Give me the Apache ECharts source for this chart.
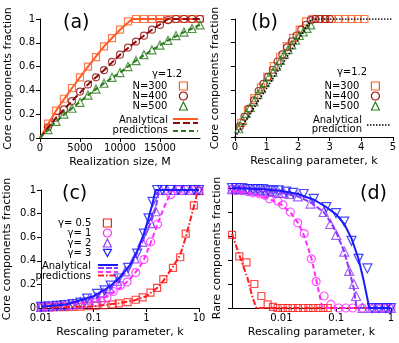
<!DOCTYPE html>
<html>
<head>
<meta charset="utf-8">
<script src="https://cdn.jsdelivr.net/npm/echarts@6/dist/echarts.min.js"></script>
<style>
html, body { margin: 0; padding: 0; background: #fff; }
#chart { width: 399px; height: 343px; }
</style>
</head>
<body>
<div id="chart"></div>
<script>
// (a) core fraction vs realization size M, gamma = 1.2
const sizeM = [1000, 2000, 3000, 4000, 5000, 6000, 7000, 8000, 9000, 10000, 11000, 12000, 13000, 14000, 15000, 16000, 17000, 18000, 19000, 20000]
const coreN300 = [0.12, 0.23, 0.33, 0.42, 0.51, 0.6, 0.68, 0.77, 0.84, 0.91, 0.98, 1, 1, 1, 1, 1, 1, 1, 1, 1]
const coreN400 = [0.09, 0.17, 0.24, 0.31, 0.39, 0.45, 0.51, 0.57, 0.64, 0.7, 0.76, 0.81, 0.86, 0.91, 0.95, 0.99, 1, 1, 1, 1]
const coreN500 = [0.07, 0.14, 0.2, 0.25, 0.3, 0.36, 0.41, 0.46, 0.51, 0.55, 0.6, 0.65, 0.7, 0.74, 0.78, 0.82, 0.86, 0.89, 0.92, 0.95]
const fitM300 = [0, 2000, 4000, 6000, 8000, 10000, 11500, 20000]
const fitN300 = [0, 0.23, 0.42, 0.6, 0.77, 0.91, 1, 1]
const fitM400 = [0, 2000, 4000, 6000, 8000, 10000, 12000, 14000, 16000, 20000]
const fitN400 = [0, 0.17, 0.31, 0.45, 0.57, 0.7, 0.81, 0.91, 1, 1]
const fitM500 = [0, 2000, 4000, 6000, 8000, 10000, 12000, 14000, 16000, 18000, 20000]
const fitN500 = [0, 0.14, 0.25, 0.36, 0.46, 0.55, 0.65, 0.74, 0.82, 0.89, 0.95]

// (b) same runs against the rescaling parameter k
const kN300 = [0.2, 0.41, 0.61, 0.82, 1.02, 1.23, 1.43, 1.64, 1.84, 2.05, 2.25, 2.46, 2.66, 2.87, 3.07, 3.28, 3.48, 3.69, 3.89, 4.1]
const kN400 = [0.15, 0.3, 0.45, 0.6, 0.75, 0.9, 1.05, 1.2, 1.35, 1.5, 1.65, 1.8, 1.95, 2.1, 2.25, 2.4, 2.55, 2.7, 2.85, 3.0]
const kN500 = [0.12, 0.24, 0.36, 0.48, 0.6, 0.72, 0.84, 0.96, 1.08, 1.2, 1.32, 1.44, 1.56, 1.68, 1.8, 1.92, 2.04, 2.16, 2.28, 2.4]
const fitKb = [0, 2.43, 5]
const fitCoreB = [0, 1, 1]

// (c) core fraction vs k for several gamma
const kG05 = [0.01, 0.014, 0.02, 0.028, 0.04, 0.056, 0.08, 0.11, 0.16, 0.23, 0.3, 0.44, 0.63, 0.85, 1.2, 1.6, 2.1, 3.2, 4.4, 5.6, 8, 10]
const coreG05 = [0.005, 0.006, 0.007, 0.008, 0.01, 0.012, 0.015, 0.02, 0.025, 0.03, 0.04, 0.05, 0.07, 0.09, 0.13, 0.17, 0.245, 0.34, 0.43, 0.63, 0.87, 0.99]
const kG1 = [0.01, 0.014, 0.02, 0.028, 0.04, 0.056, 0.08, 0.11, 0.14, 0.18, 0.235, 0.32, 0.43, 0.63, 0.9, 1.2, 1.63, 2.9, 4, 5.5, 7.5, 10]
const coreG1 = [0.01, 0.012, 0.014, 0.018, 0.022, 0.028, 0.035, 0.045, 0.06, 0.09, 0.14, 0.19, 0.22, 0.3, 0.41, 0.56, 0.71, 0.96, 1, 1, 1, 1]
const kG2 = [0.01, 0.014, 0.02, 0.028, 0.04, 0.056, 0.08, 0.11, 0.15, 0.2, 0.28, 0.4, 0.6, 0.84, 1.2, 1.5, 1.9, 2.5, 3.5, 5, 7, 10]
const coreG2 = [0.01, 0.014, 0.02, 0.025, 0.035, 0.05, 0.07, 0.09, 0.13, 0.17, 0.23, 0.31, 0.42, 0.56, 0.72, 0.82, 1, 1, 1, 1, 1, 1]
const kG3 = [0.01, 0.014, 0.02, 0.028, 0.04, 0.056, 0.075, 0.116, 0.16, 0.21, 0.3, 0.45, 0.67, 0.9, 1.1, 1.31, 1.6, 2, 2.8, 4, 5.6, 8, 10]
const coreG3 = [0.01, 0.014, 0.018, 0.024, 0.033, 0.045, 0.08, 0.12, 0.15, 0.19, 0.25, 0.34, 0.46, 0.63, 0.76, 0.9, 1, 1, 1, 1, 1, 1, 1]
const fitKc3 = [0.01, 0.03, 0.1, 0.2, 0.3, 0.5, 0.7, 0.9, 1.1, 1.3, 1.5, 10]
const fitCoreC3 = [0.01, 0.03, 0.1, 0.18, 0.25, 0.37, 0.5, 0.63, 0.76, 0.88, 1, 1]
const fitKc2 = [0.01, 0.03, 0.1, 0.2, 0.4, 0.6, 0.84, 1.2, 1.5, 1.75, 10]
const fitCoreC2 = [0.01, 0.03, 0.09, 0.17, 0.3, 0.42, 0.56, 0.72, 0.84, 1, 1]
const fitKc1 = [0.01, 0.03, 0.1, 0.2, 0.32, 0.5, 0.7, 0.9, 1.2, 1.6, 2.2, 3.1, 10]
const fitCoreC1 = [0.01, 0.025, 0.05, 0.11, 0.17, 0.25, 0.33, 0.41, 0.55, 0.7, 0.86, 1, 1]
const fitKc05 = [0.01, 0.03, 0.1, 0.3, 0.6, 1, 1.6, 2.1, 3, 4.4, 5.6, 8, 9.6, 10]
const fitCoreC05 = [0.004, 0.007, 0.015, 0.04, 0.065, 0.1, 0.17, 0.23, 0.33, 0.45, 0.6, 0.86, 1, 1]

// (d) rare components fraction vs k
const kD3 = [0.00125, 0.0015, 0.0019, 0.0024, 0.003, 0.0037, 0.0046, 0.0057, 0.0071, 0.0089, 0.0122, 0.0163, 0.0254, 0.039, 0.066, 0.099, 0.14, 0.19, 0.255, 0.37, 0.45, 0.6, 0.8, 1]
const rareD3 = [1, 1, 1, 0.99, 0.99, 0.99, 0.99, 0.98, 0.98, 0.98, 0.97, 0.96, 0.95, 0.91, 0.84, 0.79, 0.72, 0.56, 0.41, 0.33, 0, 0, 0, 0]
const kD2 = [0.00125, 0.0015, 0.0019, 0.0024, 0.003, 0.0037, 0.0046, 0.0057, 0.0071, 0.0089, 0.011, 0.014, 0.02, 0.034, 0.059, 0.078, 0.1, 0.14, 0.172, 0.21, 0.23, 0.3, 0.45, 0.6, 0.8, 1]
const rareD2 = [0.99, 0.99, 0.99, 0.99, 0.98, 0.98, 0.98, 0.97, 0.97, 0.96, 0.96, 0.95, 0.93, 0.87, 0.8, 0.7, 0.61, 0.47, 0.31, 0.2, 0.1, 0, 0, 0, 0, 0]
const kD1 = [0.00125, 0.0015, 0.0019, 0.0024, 0.003, 0.004, 0.005, 0.006, 0.0086, 0.0106, 0.0145, 0.0198, 0.026, 0.035, 0.043, 0.06, 0.08, 0.11, 0.15, 0.2, 0.3, 0.45, 0.6, 0.8, 1]
const rareD1 = [0.99, 0.98, 0.98, 0.97, 0.96, 0.95, 0.94, 0.91, 0.89, 0.86, 0.8, 0.71, 0.62, 0.41, 0.22, 0.1, 0.03, 0, 0, 0, 0, 0, 0, 0, 0]
const kD05 = [0.00125, 0.0017, 0.0023, 0.0032, 0.0043, 0.0056, 0.007, 0.0085, 0.0105, 0.013, 0.016, 0.02, 0.025, 0.031, 0.038, 0.047, 0.058, 0.07]
const rareD05 = [0.61, 0.43, 0.38, 0.2, 0.1, 0.03, 0.01, 0, 0, 0, 0, 0, 0, 0, 0, 0, 0, 0]
const fitKd3 = [0.00125, 0.005, 0.01, 0.02, 0.04, 0.066, 0.1, 0.14, 0.19, 0.255, 0.32, 0.37, 0.4, 1]
const fitRareD3 = [1, 0.99, 0.975, 0.95, 0.9, 0.84, 0.78, 0.7, 0.58, 0.41, 0.22, 0.08, 0, 0]
const fitKd2 = [0.00125, 0.005, 0.01, 0.02, 0.034, 0.059, 0.078, 0.1, 0.14, 0.17, 0.21, 0.235, 1]
const fitRareD2 = [1, 0.98, 0.96, 0.93, 0.88, 0.8, 0.72, 0.63, 0.47, 0.33, 0.16, 0, 0]
const fitKd1 = [0.00125, 0.003, 0.006, 0.01, 0.015, 0.02, 0.026, 0.035, 0.043, 0.05, 0.056, 1]
const fitRareD1 = [0.98, 0.95, 0.91, 0.86, 0.79, 0.71, 0.6, 0.42, 0.24, 0.1, 0, 0]
const fitKd05 = [0.00125, 0.0017, 0.0024, 0.003, 0.0035, 1]
const fitRareD05 = [0.62, 0.44, 0.25, 0.08, 0, 0]

const font = 'DejaVu Sans'
const cOrange = '#ff5b22', cDarkRed = '#8e0b0b', cGreen = '#2a7a1c'
const cRed = '#ff1c1c', cMagenta = '#ff2bff', cPurple = '#9036ff', cBlue = '#1a1aff'
const downTri = 'path://M0,0L10,0L5,9Z'

const zip = (xs, ys) => xs.map((x, i) => [x, ys[i]])

function dots(name, xs, ys, idx, symbol, color, size) {
  return {
    type: 'scatter', name, data: zip(xs, ys), xAxisIndex: idx, yAxisIndex: idx,
    symbol, symbolSize: size, silent: true, z: 3,
    itemStyle: { color: 'transparent', borderColor: color, borderWidth: 1.2 }
  }
}
function fit(xs, ys, idx, color, dash, width) {
  return {
    type: 'line', data: zip(xs, ys), xAxisIndex: idx, yAxisIndex: idx,
    showSymbol: false, symbol: 'none', silent: true, z: 4,
    lineStyle: { color, width: width || 2, type: dash || 'solid' }
  }
}

const tickTxt = { fontSize: 10, color: '#000', fontFamily: font }
function yAx(idx, name, gap, labels) {
  return {
    type: 'value', gridIndex: idx, min: 0, max: 1, interval: 0.2,
    name, nameLocation: 'middle', nameGap: gap,
    nameTextStyle: { fontSize: 11, color: '#000', fontFamily: font },
    axisLine: { lineStyle: { color: '#000', width: 1 } },
    axisTick: { length: 4, lineStyle: { color: '#000' } },
    axisLabel: Object.assign({ show: labels, margin: 5 }, tickTxt),
    splitLine: { show: false }
  }
}
function xAx(idx, extra) {
  return Object.assign({
    gridIndex: idx, name: 'Rescaling parameter, k', nameLocation: 'middle', nameGap: 19,
    nameTextStyle: { fontSize: 11, color: '#000', fontFamily: font },
    axisLine: { onZero: false, lineStyle: { color: '#000', width: 1 } },
    axisTick: { length: 4, lineStyle: { color: '#000' } },
    axisLabel: Object.assign({ margin: 5 }, tickTxt),
    splitLine: { show: false }
  }, extra)
}

function legendOf(items, right, top) {
  return {
    orient: 'vertical', align: 'right', right, top, padding: 0, itemGap: 0,
    itemWidth: 8, itemHeight: 8, selectedMode: false,
    textStyle: { fontSize: 10, color: '#000', fontFamily: font, padding: [0, 7, 0, 0] },
    data: items.map(([name, icon, color]) => ({
      name, icon, itemStyle: { color: 'transparent', borderColor: color, borderWidth: 1.2, opacity: 1 }
    }))
  }
}
function txt(text, x, y, align) {
  return { type: 'text', x, y, silent: true,
    style: { text, fill: '#000', fontSize: 10, fontFamily: font, align: align || 'right', verticalAlign: 'middle' } }
}
function key(x1, x2, y, color, dash, width) {
  return { type: 'line', silent: true, shape: { x1, y1: y, x2, y2: y },
    style: { stroke: color, lineWidth: width || 2, lineDash: dash || null } }
}
function panelTag(text, left, top) {
  return { text, left, top, padding: 0,
    textStyle: { fontSize: 19, fontWeight: 'normal', color: '#000', fontFamily: font } }
}

const chart = echarts.init(document.getElementById('chart'))
const option = {
  animation: false,
  backgroundColor: '#fff',
  title: [panelTag('(a)', 63, 14), panelTag('(b)', 251, 14), panelTag('(c)', 62, 185), panelTag('(d)', 360, 185)],
  grid: [
    { left: 40, top: 19, width: 160, height: 119 },
    { left: 235, top: 19, width: 159, height: 118 },
    { left: 41, top: 190, width: 158, height: 118 },
    { left: 232, top: 188, width: 159, height: 120 }
  ],
  xAxis: [
    xAx(0, { type: 'value', min: 0, max: 20000, interval: 5000, name: 'Realization size, M',
      axisLabel: Object.assign({ margin: 5, showMaxLabel: false, formatter: v => String(v) }, tickTxt) }),
    xAx(1, { type: 'value', min: 0, max: 5, interval: 1 }),
    xAx(2, { type: 'log', logBase: 10, min: 0.01, max: 10,
      axisLabel: Object.assign({ margin: 5, formatter: v => String(+v.toPrecision(2)) }, tickTxt) }),
    xAx(3, { type: 'log', logBase: 10, min: 0.00125, max: 1,
      axisTick: { length: 4, lineStyle: { color: '#000' }, customValues: [0.01, 0.1, 1] },
      axisLabel: Object.assign({ margin: 5, customValues: [0.01, 0.1, 1], formatter: v => String(+v.toPrecision(2)) }, tickTxt) })
  ],
  yAxis: [
    yAx(0, 'Core components fraction', 26, true),
    yAx(1, 'Core components fraction', 14, false),
    yAx(2, 'Core components fraction', 28, true),
    yAx(3, 'Rare components fraction', 9, false)
  ],
  legend: [
    legendOf([['N=300', 'rect', cOrange], ['N=400', 'circle', cDarkRed], ['N=500', 'triangle', cGreen]], 211, 81),
    legendOf([['N=300', 'rect', cOrange], ['N=400', 'circle', cDarkRed], ['N=500', 'triangle', cGreen]], 19, 81),
    legendOf([['γ= 0.5', 'rect', cRed], ['γ= 1', 'circle', cMagenta], ['γ= 2', 'triangle', cPurple], ['γ= 3', downTri, cBlue]], 287, 218)
  ],
  graphic: [
    txt('γ=1.2', 167, 74, 'center'),
    txt('Analytical', 168, 120), txt('predictions', 168, 130),
    key(173, 198, 119, cOrange), key(173, 198, 123, cDarkRed, [7, 3]), key(173, 198, 131, cGreen, [5, 3]),
    txt('γ=1.2', 352, 72, 'center'),
    txt('Analytical', 362, 120), txt('prediction', 362, 129),
    key(367, 390, 125, '#000', [1.5, 1.5], 1.5),
    txt('Analytical', 91, 266), txt('predictions', 91, 276),
    key(98, 118, 265, cBlue), key(98, 118, 268, cPurple, [6, 2]),
    key(98, 118, 272, cMagenta, [5, 3]), key(98, 118, 275.5, cRed, [6, 2, 1.5, 2])
  ],
  series: [
    dots('N=300', sizeM, coreN300, 0, 'rect', cOrange, 7),
    dots('N=400', sizeM, coreN400, 0, 'circle', cDarkRed, 7),
    dots('N=500', sizeM, coreN500, 0, 'triangle', cGreen, 8),
    fit(fitM300, fitN300, 0, cOrange),
    fit(fitM400, fitN400, 0, cDarkRed, [7, 3]),
    fit(fitM500, fitN500, 0, cGreen, [5, 3]),

    dots('N=300', kN300, coreN300, 1, 'rect', cOrange, 7),
    dots('N=400', kN400, coreN400, 1, 'circle', cDarkRed, 7),
    dots('N=500', kN500, coreN500, 1, 'triangle', cGreen, 8),
    fit(fitKb, fitCoreB, 1, '#000', [1.5, 1.5], 1.5),

    dots('γ= 0.5', kG05, coreG05, 2, 'rect', cRed, 7),
    dots('γ= 1', kG1, coreG1, 2, 'circle', cMagenta, 8),
    dots('γ= 2', kG2, coreG2, 2, 'triangle', cPurple, 9),
    dots('γ= 3', kG3, coreG3, 2, downTri, cBlue, 9),
    fit(fitKc05, fitCoreC05, 2, cRed, [6, 2, 1.5, 2]),
    fit(fitKc1, fitCoreC1, 2, cMagenta, [5, 3]),
    fit(fitKc2, fitCoreC2, 2, cPurple, [6, 2]),
    fit(fitKc3, fitCoreC3, 2, cBlue),

    dots('γ= 0.5', kD05, rareD05, 3, 'rect', cRed, 7),
    dots('γ= 1', kD1, rareD1, 3, 'circle', cMagenta, 8),
    dots('γ= 2', kD2, rareD2, 3, 'triangle', cPurple, 9),
    dots('γ= 3', kD3, rareD3, 3, downTri, cBlue, 9),
    fit(fitKd05, fitRareD05, 3, cRed, [6, 2, 1.5, 2]),
    fit(fitKd1, fitRareD1, 3, cMagenta, [5, 3]),
    fit(fitKd2, fitRareD2, 3, cPurple, [6, 2]),
    fit(fitKd3, fitRareD3, 3, cBlue)
  ]
}
option && chart.setOption(option)
</script>
</body>
</html>
